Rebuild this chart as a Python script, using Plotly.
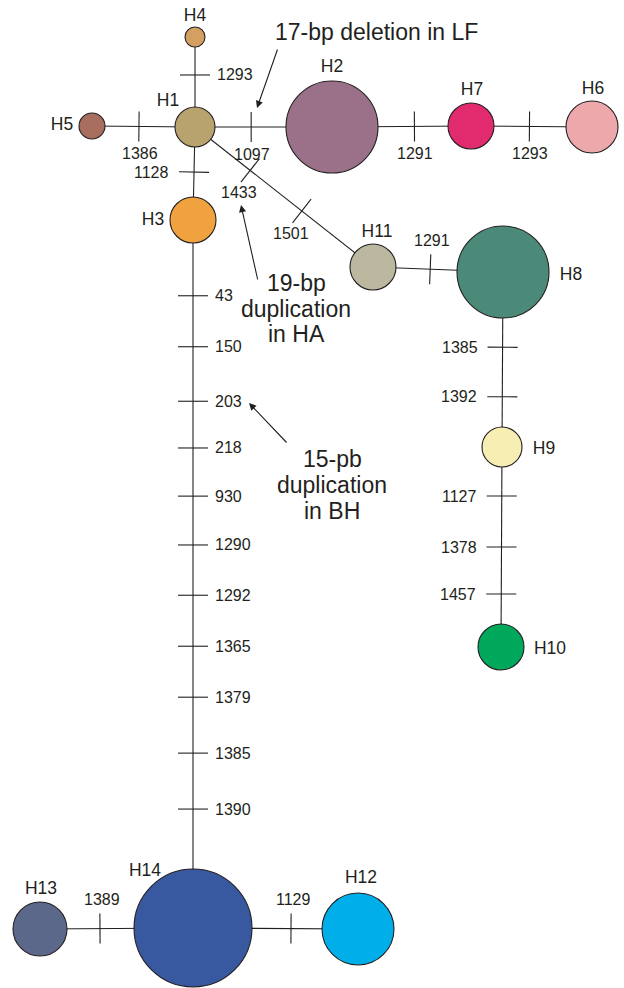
import numpy as np
import plotly.graph_objects as go

# ---- haplotypes -----------------------------------------------------------
haplotypes = ["H1", "H2", "H3", "H4", "H5", "H6", "H7",
              "H8", "H9", "H10", "H11", "H12", "H13", "H14"]
# circle radius (proportional to haplotype frequency), drawing units
hap_radius = [20, 46, 23, 10, 13, 26, 23, 46, 20, 23, 23, 36, 27, 59]

# ---- network edges and the mutated sites along each edge -----------------
edge_from = ["H1", "H1", "H1", "H1", "H1", "H2", "H7", "H11", "H8", "H9", "H3", "H14", "H14"]
edge_to = ["H4", "H5", "H2", "H3", "H11", "H7", "H6", "H8", "H9", "H10", "H14", "H13", "H12"]
edge_sites = [
    ["1293"],
    ["1386"],
    ["1097"],
    ["1128"],
    ["1433", "1501"],
    ["1291"],
    ["1293"],
    ["1291"],
    ["1385", "1392"],
    ["1127", "1378", "1457"],
    ["43", "150", "203", "218", "930", "1290", "1292", "1365", "1379", "1385", "1390"],
    ["1389"],
    ["1129"],
]

# ---- notes on indel events ------------------------------------------------
note_lines = [
    ["17-bp deletion in LF"],
    ["19-bp", "duplication", "in HA"],
    ["15-pb", "duplication", "in BH"],
]

# ---- drawing layout (screen-like units, y grows downward) -----------------
W, H = 624, 988
node_pos = {
    "H1": (195, 127), "H2": (332, 127), "H3": (193, 220), "H4": (195, 37),
    "H5": (92, 126), "H6": (592, 127), "H7": (471, 126), "H8": (503, 272),
    "H9": (502, 447), "H10": (501, 647), "H11": (373, 267), "H12": (358, 929),
    "H13": (40, 929), "H14": (193, 928),
}
node_label_pos = {
    "H1": (168, 102), "H2": (332, 68), "H3": (153, 221), "H4": (195, 17),
    "H5": (62, 126), "H6": (593, 90), "H7": (472, 91), "H8": (571, 276),
    "H9": (544, 450), "H10": (550, 650), "H11": (377, 233), "H12": (361, 879),
    "H13": (41, 890), "H14": (145, 872),
}
node_colors = {
    "H1": "#B8A26E", "H2": "#9A7189", "H3": "#F0A23E", "H4": "#D3A062",
    "H5": "#A86E5E", "H6": "#EDA8AB", "H7": "#E22B6E", "H8": "#4B8978",
    "H9": "#F6EEB2", "H10": "#00A85C", "H11": "#BCB8A0", "H12": "#00AEEA",
    "H13": "#5B6889", "H14": "#3858A0",
}
# fraction along each edge where a mutation tick sits
site_frac = [
    [0.578], [0.544], [0.41], [0.484], [0.31, 0.60], [0.593], [0.483], [0.44],
    [0.43, 0.713], [0.245, 0.50, 0.735],
    [0.107, 0.179, 0.256, 0.322, 0.39, 0.459, 0.53, 0.602, 0.674, 0.753, 0.832],
    [0.608], [0.594],
]
label_side = ["right", "below", "below", "left", "belowleft", "below", "below",
              "above", "left", "left", "right", "above", "above"]
note_pos = [
    [(376, 32)],
    [(296, 283), (296, 309), (296, 334)],
    [(332, 459), (332, 485), (332, 511)],
]
# arrows: (tail x, tail y, head x, head y)
note_arrows = [(278, 48, 257, 108), (258, 281, 241, 205), (288, 444, 249, 403)]

INK = "#231F20"
FONT = "Liberation Sans, Arial, Helvetica, sans-serif"
TICK_HALF = 15

fig = go.Figure()

# edges
ex, ey = [], []
for a, b in zip(edge_from, edge_to):
    (x0, y0), (x1, y1) = node_pos[a], node_pos[b]
    ex += [x0, x1, None]
    ey += [y0, y1, None]
fig.add_trace(go.Scatter(x=ex, y=ey, mode="lines", line=dict(color=INK, width=1.1),
                         hoverinfo="skip", showlegend=False))

# mutation ticks and their site labels
tx, ty = [], []
annotations = []
offsets = {"right": (20, 0, "left"), "left": (-23, 0, "right"),
           "below": (1, 27, "center"), "above": (2, -29, "center"),
           "belowleft": (-11, 22, "center")}
for a, b, sites, fracs, side in zip(edge_from, edge_to, edge_sites, site_frac, label_side):
    (x0, y0), (x1, y1) = node_pos[a], node_pos[b]
    d = np.array([x1 - x0, y1 - y0], dtype=float)
    d /= np.hypot(*d)
    n = np.array([-d[1], d[0]])
    for s, f in zip(sites, fracs):
        px, py = x0 + f * (x1 - x0), y0 + f * (y1 - y0)
        tx += [px - TICK_HALF * n[0], px + TICK_HALF * n[0], None]
        ty += [py - TICK_HALF * n[1], py + TICK_HALF * n[1], None]
        dx, dy, anchor = offsets[side]
        annotations.append(dict(x=px + dx, y=py + dy, text=s, showarrow=False,
                                xanchor=anchor, yanchor="middle",
                                font=dict(family=FONT, size=16, color=INK)))
fig.add_trace(go.Scatter(x=tx, y=ty, mode="lines", line=dict(color=INK, width=1.1),
                         hoverinfo="skip", showlegend=False))

# haplotype circles
fig.add_trace(go.Scatter(
    x=[node_pos[h][0] for h in haplotypes],
    y=[node_pos[h][1] for h in haplotypes],
    mode="markers",
    marker=dict(size=[2 * r for r in hap_radius],
                color=[node_colors[h] for h in haplotypes],
                line=dict(color=INK, width=1.1), opacity=1),
    text=haplotypes, hoverinfo="text", showlegend=False, cliponaxis=False))

# haplotype names
fig.add_trace(go.Scatter(
    x=[node_label_pos[h][0] for h in haplotypes],
    y=[node_label_pos[h][1] for h in haplotypes],
    mode="text", text=haplotypes, textposition="middle center",
    textfont=dict(family=FONT, size=17.5, color=INK),
    hoverinfo="skip", showlegend=False, cliponaxis=False))

# indel notes
for lines, pos in zip(note_lines, note_pos):
    for t, (x, y) in zip(lines, pos):
        annotations.append(dict(x=x, y=y, text=t, showarrow=False, xanchor="center",
                                yanchor="middle",
                                font=dict(family=FONT, size=23, color=INK)))
for (ax, ay, hx, hy) in note_arrows:
    annotations.append(dict(x=hx, y=hy, ax=ax, ay=ay, axref="x", ayref="y",
                            xref="x", yref="y", text="", showarrow=True,
                            arrowhead=2, arrowsize=1.3, arrowwidth=1.1,
                            arrowcolor=INK, standoff=0, startstandoff=0))

fig.update_layout(
    width=W, height=H, margin=dict(l=0, r=0, t=0, b=0, pad=0),
    paper_bgcolor="white", plot_bgcolor="white",
    xaxis=dict(range=[0, W], visible=False, fixedrange=True),
    yaxis=dict(range=[H, 0], visible=False, fixedrange=True),
    annotations=annotations,
)

fig.write_html("out.html")
